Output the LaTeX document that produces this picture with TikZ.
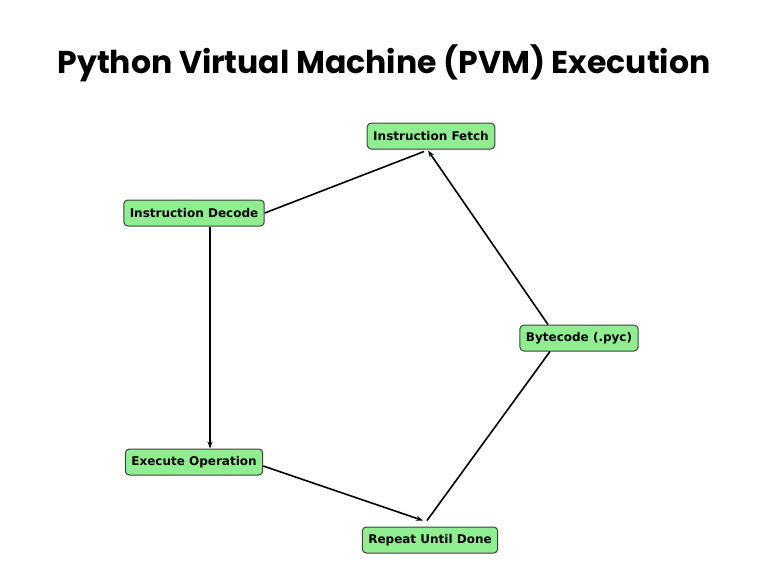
\documentclass[tikz,border=0pt]{standalone}
\usepackage{fontspec}
\setmainfont{DejaVu Sans}
\newfontfamily\titlefont{Poppins}
\usetikzlibrary{arrows.meta}
\definecolor{stepgreen}{HTML}{90EE90}

\begin{document}
\begin{tikzpicture}[%
    x=1pt, y=-1pt,                % pixel-like units, top-down
    >={Stealth[length=7pt,width=5pt]},
    ]
% -------------------------------------------------
% Styles for steps and links
\tikzset{
  stepbox/.style={draw=black!75, fill=stepgreen, rounded corners=4pt, line width=1pt,
    minimum height=26pt, inner xsep=6pt, font=\bfseries\fontsize{12}{14}\selectfont},
  link/.style={draw, line width=1.6pt},
  flow/.style={link, ->},
}
\useasboundingbox (0,0) rectangle (768,576);
\node[font=\titlefont\bfseries\fontsize{31.5}{36}\selectfont] (title) at (384,63)
  {Python Virtual Machine (PVM) Execution};
% -------------------------------------------------
% The steps
\node[stepbox] (fetch) at (431,136) {Instruction Fetch};
\node[stepbox] (decode) at (194,213) {Instruction Decode};
\node[stepbox] (bytecode) at (579,338) {Bytecode (.pyc)};
\node[stepbox] (exec) at (194,462) {Execute Operation};
\node[stepbox] (repeat) at (430,540) {Repeat Until Done};
% -------------------------------------------------
% The links
\draw[link] (decode.east) -- ([xshift=-7pt,yshift=-2pt]fetch.south);
\draw[flow] ([xshift=-31pt]bytecode.north) -- ([xshift=-3pt,yshift=-1pt]fetch.south);
\draw[flow] ([xshift=16pt]decode.south) -- ([xshift=16pt]exec.north);
\draw[flow] ([yshift=-4pt]exec.east) -- ([xshift=-7pt,yshift=6pt]repeat.north);
\draw[link] ([xshift=-3pt,yshift=6pt]repeat.north) -- ([xshift=-29pt]bytecode.south);
\end{tikzpicture}
\end{document}
